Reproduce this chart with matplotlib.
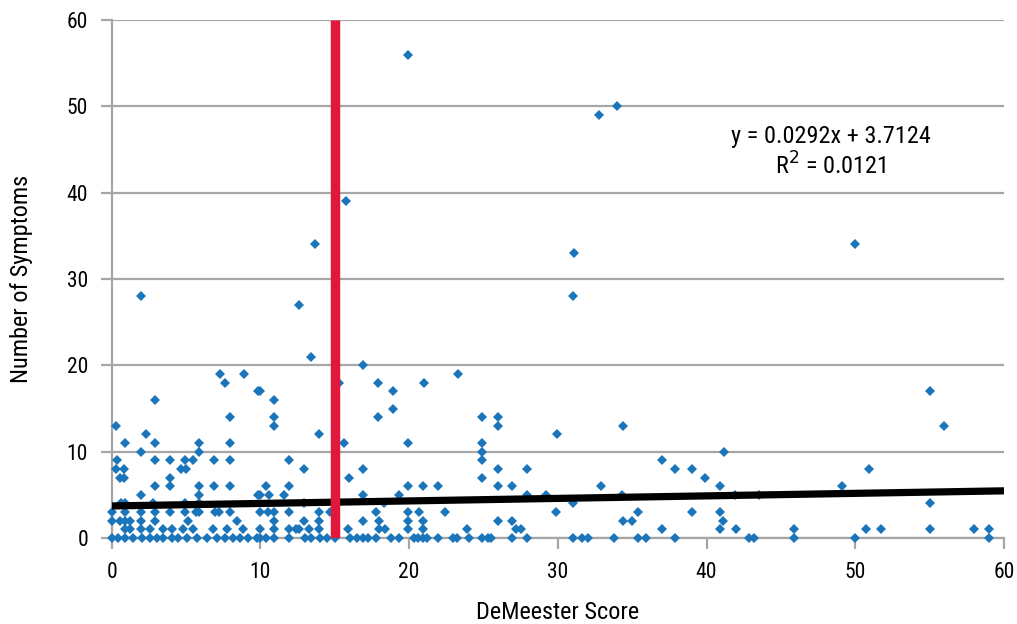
import matplotlib
matplotlib.use("Agg")
import matplotlib.pyplot as plt
from matplotlib import font_manager
import numpy as np

# pick a condensed sans if one is available
_fam = 'Liberation Sans'
for cand in ['Roboto Condensed', 'Liberation Sans Narrow', 'Open Sans Condensed',
             'DejaVu Sans Condensed']:
    try:
        font_manager.findfont(font_manager.FontProperties(family=cand),
                              fallback_to_default=False)
        _fam = cand
        break
    except Exception:
        pass
plt.rcParams['font.family'] = [_fam, 'DejaVu Sans']

# ---- data (DeMeester score, number of symptoms) ----
x_high = [1.95, 12.6, 13.7, 15.75, 19.9, 31.1, 31.0, 32.75, 34.0, 50.0, 13.4, 16.9]
y_high = [28, 27, 34, 39, 56, 33, 28, 49, 50, 34, 21, 20]

x_mid = [7.3, 8.9, 7.6, 9.85, 15.3, 17.9, 10.0, 18.9, 23.3, 21.0, 55.0,
         2.9, 10.9, 7.95, 0.3, 17.9, 18.9, 10.9, 10.9, 24.9, 26.0, 26.0, 34.35, 56.0,
         2.3, 13.95, 29.95, 0.9, 2.9, 5.9, 7.95, 15.6, 19.9, 24.9, 2.0, 5.9, 24.9, 41.2]
y_mid = [19, 19, 18, 17, 18, 18, 17, 17, 19, 18, 17,
         16, 16, 14, 13, 14, 15, 14, 13, 14, 14, 13, 13, 13,
         12, 12, 12, 11, 11, 11, 11, 11, 11, 11, 10, 10, 10, 10]

x_9 = [0.35, 2.9, 3.9, 4.9, 5.45, 6.9, 7.95, 11.9, 24.9, 37.0]
x_8 = [0.3, 0.85, 4.65, 5.0, 12.9, 16.9, 26.0, 27.9, 37.9, 39.0, 50.9]
x_7 = [0.55, 0.8, 3.9, 15.95, 24.9, 39.9]
x_6 = [2.9, 3.9, 5.9, 6.9, 7.95, 10.35, 11.9, 19.9, 20.95, 21.95, 25.95, 26.9,
       32.9, 40.9, 49.1]
x_5 = [2.0, 5.9, 9.85, 10.0, 10.6, 11.6, 16.9, 19.3, 27.9, 29.2, 34.3, 41.9, 43.5]
x_4 = [0.6, 0.9, 2.8, 4.9, 5.9, 12.9, 18.3, 31.0, 55.0]
x_3 = [0.0, 0.9, 2.0, 2.9, 3.9, 4.9, 5.7, 5.9, 6.95, 7.2, 7.95, 10.0, 10.5, 10.9,
       11.9, 13.95, 14.67, 17.76, 19.9, 20.65, 22.4, 29.9, 35.4, 39.0, 40.9]
x_2 = [0.0, 0.56, 0.9, 1.23, 2.0, 2.9, 5.1, 8.4, 10.9, 12.9, 13.95, 16.9, 18.0,
       19.9, 20.95, 26.0, 26.9, 34.4, 35.0, 41.1]
x_1 = [0.9, 1.23, 2.0, 2.57, 3.47, 4.03, 4.8, 5.5, 6.83, 7.73, 8.85, 10.0, 10.9,
       11.9, 12.4, 12.6, 13.3, 13.95, 15.9, 18.0, 18.4, 19.9, 20.95, 23.9, 27.2,
       27.5, 37.0, 40.9, 42.0, 45.9, 50.7, 51.7, 55.0, 58.0, 59.0]
x_0 = [0.0, 0.44, 0.89, 1.45, 2.02, 2.57, 3.02, 3.47, 4.03, 4.48, 5.04, 5.71,
       6.38, 7.05, 7.6, 8.17, 8.62, 9.18, 9.74, 10.0, 10.35, 10.9, 11.9, 13.0,
       13.4, 14.0, 14.45, 15.0, 16.0, 16.5, 16.9, 17.25, 17.8, 18.8, 19.3, 20.3,
       20.6, 20.95, 21.2, 21.95, 22.95, 23.2, 24.0, 24.9, 25.3, 25.5, 26.9, 27.9,
       31.0, 31.6, 32.0, 33.75, 35.4, 35.95, 37.9, 42.85, 43.2, 45.9, 49.95, 59.0]

low_rows = {9: x_9, 8: x_8, 7: x_7, 6: x_6, 5: x_5, 4: x_4, 3: x_3, 2: x_2, 1: x_1, 0: x_0}

trend_slope = 0.0292
trend_intercept = 3.7124
r_squared = 0.0121
cutoff_score = 15

x_ticks = [0, 10, 20, 30, 40, 50, 60]
y_ticks = [0, 10, 20, 30, 40, 50, 60]

# ---- assemble ----
xs = list(x_high) + list(x_mid)
ys = list(y_high) + list(y_mid)
for yv, xl in low_rows.items():
    xs += list(xl)
    ys += [yv] * len(xl)

fig = plt.figure(figsize=(10.17, 6.24), dpi=100)
ax = fig.add_axes([0.1098, 0.1378, 0.8774, 0.8302])

grid_c = '#A6A6A6'
ax.set_xlim(0, 60)
ax.set_ylim(0, 60)
ax.set_xticks(x_ticks)
ax.set_yticks(y_ticks)
ax.yaxis.grid(True, color=grid_c, linewidth=1.6, zorder=0)
ax.set_axisbelow(True)
for s in ['top', 'right']:
    ax.spines[s].set_visible(False)
for s in ['left', 'bottom']:
    ax.spines[s].set_color(grid_c)
    ax.spines[s].set_linewidth(1.6)
ax.tick_params(axis='both', colors=grid_c, length=8, width=1.6, direction='out',
               labelcolor='black', labelsize=15.5)
ax.tick_params(axis='y', pad=9)
ax.tick_params(axis='x', pad=9)

ax.plot(xs, ys, linestyle='none', marker='D', markersize=5.1,
        color='#1B75BB', markeredgewidth=0, zorder=3, clip_on=False)

tx = np.array([0, 60])
ax.plot(tx, trend_slope * tx + trend_intercept, color='black', linewidth=5.2,
        solid_capstyle='butt', zorder=4)
ax.plot([cutoff_score, cutoff_score], [0, 60], color='#E0183C', linewidth=6.8,
        solid_capstyle='butt', zorder=5)

ax.text(48.35, 44.7, f"y = {trend_slope}x + {trend_intercept}\nR$^2$ = {r_squared}",
        ha='center', va='center', fontsize=17.5, linespacing=1.2, zorder=6)

ax.set_xlabel('DeMeester Score', fontsize=17.5)
ax.set_ylabel('Number of Symptoms', fontsize=17.5)
ax.xaxis.set_label_coords(0.5, -0.1440)
ax.xaxis.label.set_verticalalignment('center')
ax.yaxis.set_label_coords(-0.1005, 0.5)
ax.yaxis.label.set_verticalalignment('center')

fig.savefig('out.png', dpi=100)
